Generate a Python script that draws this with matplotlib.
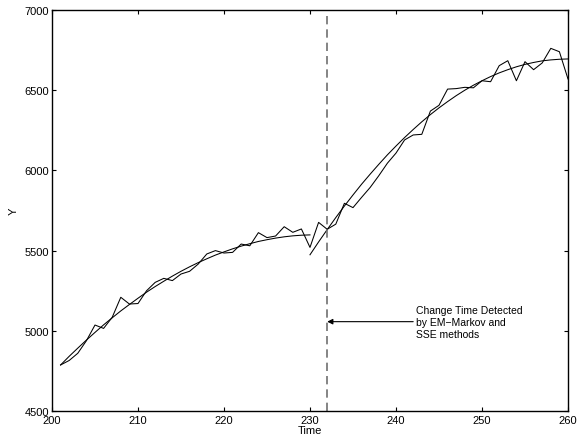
import matplotlib
matplotlib.use("Agg")
import matplotlib.pyplot as plt

plt.rcParams['font.family'] = ['Liberation Sans', 'DejaVu Sans']
plt.rcParams['font.size'] = 8

# observed series, one value per time step
time = list(range(201, 261))
y_obs = [4787, 4815, 4860, 4938, 5036, 5015, 5084, 5209, 5167, 5170,
         5250, 5302, 5327, 5313, 5354, 5371, 5416, 5479, 5500, 5485,
         5489, 5541, 5530, 5612, 5581, 5591, 5649, 5614, 5635, 5520,
         5676, 5633, 5665, 5795, 5768, 5832, 5894, 5967, 6045, 6108,
         6190, 6221, 6225, 6370, 6406, 6507, 6510, 6518, 6515, 6559,
         6553, 6653, 6684, 6559, 6678, 6628, 6670, 6761, 6740, 6570]

# fitted curve before the change
time_fit1 = list(range(201, 231))
y_fit1 = [4787, 4841, 4892, 4942, 4990, 5037, 5081, 5124, 5164, 5203,
          5241, 5276, 5309, 5341, 5371, 5399, 5425, 5449, 5472, 5492,
          5511, 5528, 5543, 5557, 5568, 5578, 5586, 5592, 5596, 5598]

# fitted curve after the change
time_fit2 = list(range(230, 261))
y_fit2 = [5474, 5554, 5631, 5706, 5778, 5847, 5914, 5977, 6038, 6097,
          6152, 6205, 6255, 6303, 6348, 6390, 6429, 6466, 6500, 6531,
          6559, 6585, 6608, 6628, 6646, 6661, 6673, 6683, 6689, 6693, 6695]

change_time = 232
note = "Change Time Detected\nby EM\u2212Markov and\nSSE methods"

fig = plt.figure(figsize=(5.77, 4.39), dpi=100)
ax = fig.add_axes([0.0901, 0.0615, 0.8943, 0.9134])

ax.plot(time, y_obs, color='k', lw=0.75)
ax.plot(time_fit1, y_fit1, color='k', lw=0.75)
ax.plot(time_fit2, y_fit2, color='k', lw=0.75)
ax.axvline(change_time, color='#707070', lw=1.2, linestyle=(0, (5, 3)))

ax.annotate("", xy=(change_time, 5057), xytext=(242, 5057),
            arrowprops=dict(arrowstyle='-|>', color='k', lw=0.8,
                            mutation_scale=8, shrinkA=0, shrinkB=0))
ax.text(242.3, 5057, note, ha='left', va='center', fontsize=7.5,
        linespacing=1.25)

ax.set_xlim(200, 260)
ax.set_ylim(4500, 7000)
ax.set_xticks([200, 210, 220, 230, 240, 250, 260])
ax.set_yticks([4500, 5000, 5500, 6000, 6500, 7000])
ax.tick_params(direction='in', top=True, right=True, length=3.2, width=0.8,
               labelsize=8)
ax.tick_params(axis='x', pad=3)
ax.tick_params(axis='y', pad=2)
for s in ax.spines.values():
    s.set_linewidth(1.0)

ax.set_xlabel("Time", labelpad=0)
ax.set_ylabel("Y", labelpad=4)

fig.savefig("out.png", dpi=100)
